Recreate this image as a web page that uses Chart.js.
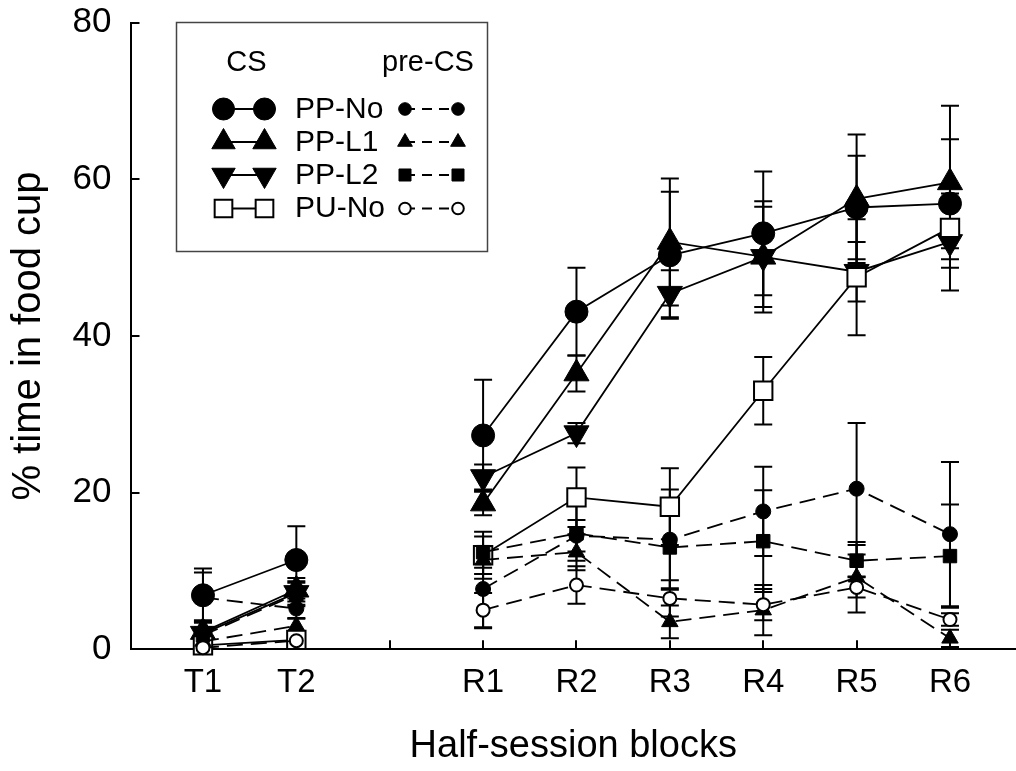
<!DOCTYPE html>
<html>
<head>
<meta charset="utf-8">
<script src="https://cdn.jsdelivr.net/npm/chart.js@4.4.1/dist/chart.umd.min.js"></script>
<style>
html,body{margin:0;padding:0;background:#fff;}
#wrap{width:1016px;height:771px;position:relative;}
</style>
</head>
<body>
<div id="wrap"><canvas id="c" width="1016" height="771"></canvas></div>
<script>
// ---------- data ----------
const categories = ['T1', 'T2', '', 'R1', 'R2', 'R3', 'R4', 'R5', 'R6'];
const yTicks = [0, 20, 40, 60, 80];
const seriesNames = ['PP-No', 'PP-L1', 'PP-L2', 'PU-No'];

// CS period (large markers, solid lines)
const ppNoCS   = [6.9, 11.4, null, 27.3, 43.1, 50.3, 53.1, 56.4, 56.9];
const ppL1CS   = [2.2,  7.6, null, 18.6, 35.2, 52.0, 50.1, 57.5, 59.6];
const ppL2CS   = [2.0,  7.2, null, 22.0, 27.6, 45.4, 50.1, 48.2, 52.0];
const puNoCS   = [0.5,  1.2, null, 12.0, 19.4, 18.2, 33.0, 47.5, 53.8];
const ppNoCSErr = [3.4, 4.3, null, 7.1, 5.6, 8.1, 7.9, 6.6, 8.2];
const ppL1CSErr = [1.5, 1.5, null, 1.5, 2.3, 8.1, 7.1, 8.2, 9.8];
const ppL2CSErr = [1.6, 1.5, null, 1.6, 1.3, 3.0, 6.4, 3.8, 6.2];
const puNoCSErr = [0.6, 0.8, null, 3.0, 3.8, 4.9, 4.3, 7.4, 2.6];

// pre-CS period (small markers, dashed lines)
const ppNoPre  = [6.6, 5.2, null,  7.7, 14.5, 14.0, 17.6, 20.5, 14.7];
const ppL1Pre  = [1.0, 3.0, null, 11.4, 12.4,  3.5,  5.0,  9.2,  1.4];
const ppL2Pre  = [1.8, 7.0, null, 12.4, 14.8, 13.0, 13.8, 11.3, 11.9];
const puNoPre  = [0.2, 1.1, null,  5.0,  8.2,  6.5,  5.7,  7.9,  3.8];
const ppNoPreErr = [3.2, 1.3, null, 5.0, 2.0, 6.4, 5.7, 8.4, 9.2];
const ppL1PreErr = [0.8, 1.0, null, 1.8, 2.3, 2.1, 3.2, 4.5, 1.1];
const ppL2PreErr = [1.0, 1.5, null, 2.0, 3.5, 5.2, 6.5, 2.0, 6.6];
const puNoPreErr = [0.3, 0.5, null, 2.2, 2.4, 2.3, 2.0, 1.3, 0.8];

// ---------- styles ----------
const FONT = '"Liberation Sans", Arial, Helvetica, sans-serif';
const csStyles = [
  {pointStyle:'circle',   radius:11.5, rotation:0,   fill:'#000', bw:1},
  {pointStyle:'triangle', radius:14.5, rotation:0,   fill:'#000', bw:1},
  {pointStyle:'triangle', radius:14.5, rotation:180, fill:'#000', bw:1},
  {pointStyle:'rect',     radius:13,   rotation:0,   fill:'#fff', bw:2}
];
const preStyles = [
  {pointStyle:'circle',   radius:7.5, rotation:0, fill:'#000', bw:1},
  {pointStyle:'triangle', radius:9.5, rotation:0, fill:'#000', bw:1},
  {pointStyle:'rect',     radius:9.5, rotation:0, fill:'#000', bw:1},
  {pointStyle:'circle',   radius:6.5, rotation:0, fill:'#fff', bw:2}
];

function toPts(arr){ return arr.map((v,i)=>({x:i, y:v})); }

function makeDs(label, values, errors, st, dashed, order){
  return {
    label, values, errors,
    data: toPts(values),
    borderColor:'#000',
    borderWidth:1.8,
    borderDash: dashed ? [16, 8] : [],
    pointStyle: st.pointStyle,
    pointRadius: st.radius,
    pointHoverRadius: st.radius,
    pointRotation: st.rotation,
    pointBackgroundColor: st.fill,
    pointBorderColor:'#000',
    pointBorderWidth: st.bw,
    pointHoverBorderWidth: st.bw,
    backgroundColor: st.fill,
    fill:false,
    tension:0,
    spanGaps:false,
    clip:false,
    order
  };
}

const datasets = [
  makeDs('PP-No CS', ppNoCS, ppNoCSErr, csStyles[0], false, 8),
  makeDs('PP-L1 CS', ppL1CS, ppL1CSErr, csStyles[1], false, 7),
  makeDs('PP-L2 CS', ppL2CS, ppL2CSErr, csStyles[2], false, 6),
  makeDs('PU-No CS', puNoCS, puNoCSErr, csStyles[3], false, 5),
  makeDs('PP-No pre-CS', ppNoPre, ppNoPreErr, preStyles[0], true, 4),
  makeDs('PP-L1 pre-CS', ppL1Pre, ppL1PreErr, preStyles[1], true, 3),
  makeDs('PP-L2 pre-CS', ppL2Pre, ppL2PreErr, preStyles[2], true, 2),
  makeDs('PU-No pre-CS', puNoPre, puNoPreErr, preStyles[3], true, 1)
];

// ---------- plugins ----------
const errorBars = {
  id:'errorBars',
  beforeDatasetsDraw(chart){
    const ctx = chart.ctx, xs = chart.scales.x, ys = chart.scales.y;
    ctx.save();
    ctx.strokeStyle = '#000';
    ctx.lineWidth = 2;
    ctx.setLineDash([]);
    chart.data.datasets.forEach(d=>{
      d.values.forEach((v,i)=>{
        const e = d.errors[i];
        if (v === null || e === null || e === undefined) return;
        const px = xs.getPixelForValue(i);
        const t = ys.getPixelForValue(v + e);
        const b = ys.getPixelForValue(Math.max(0, v - e));
        ctx.beginPath();
        ctx.moveTo(px, t); ctx.lineTo(px, b);
        ctx.moveTo(px - 9, t); ctx.lineTo(px + 9, t);
        if (v - e > 0) { ctx.moveTo(px - 9, b); ctx.lineTo(px + 9, b); }
        ctx.stroke();
      });
    });
    ctx.restore();
  }
};

const innerTicks = {
  id:'innerTicks',
  beforeDatasetsDraw(chart){
    const ctx = chart.ctx, xs = chart.scales.x, ys = chart.scales.y, a = chart.chartArea;
    ctx.save();
    ctx.strokeStyle = '#000';
    ctx.lineWidth = 2;
    ctx.beginPath();
    yTicks.forEach(v=>{
      const py = Math.round(ys.getPixelForValue(v));
      ctx.moveTo(a.left, py); ctx.lineTo(a.left + 9, py);
    });
    categories.forEach((c,i)=>{
      const px = Math.round(xs.getPixelForValue(i));
      ctx.moveTo(px, a.bottom); ctx.lineTo(px, a.bottom - 9);
    });
    ctx.stroke();
    ctx.restore();
  }
};

function marker(ctx, st, x, y, r){
  ctx.save();
  ctx.fillStyle = st.fill;
  ctx.strokeStyle = '#000';
  ctx.lineWidth = st.bw;
  ctx.setLineDash([]);
  ctx.beginPath();
  if (st.pointStyle === 'circle') {
    ctx.arc(x, y, r, 0, Math.PI*2);
  } else if (st.pointStyle === 'triangle') {
    let rad = st.rotation * Math.PI / 180;
    for (let k=0;k<3;k++){
      const px = x + Math.sin(rad)*r, py = y - Math.cos(rad)*r;
      if (k===0) ctx.moveTo(px,py); else ctx.lineTo(px,py);
      rad += 2*Math.PI/3;
    }
    ctx.closePath();
  } else {
    const s = Math.SQRT1_2 * r;
    ctx.rect(x - s, y - s, 2*s, 2*s);
  }
  ctx.fill();
  ctx.stroke();
  ctx.restore();
}

const legendBox = {
  id:'legendBox',
  afterDraw(chart){
    const ctx = chart.ctx;
    ctx.save();
    ctx.fillStyle = '#fff';
    ctx.fillRect(176.5, 22.5, 311, 229);
    ctx.strokeStyle = '#444';
    ctx.lineWidth = 1.5;
    ctx.strokeRect(176.5, 22.5, 311, 229);
    ctx.fillStyle = '#000';
    ctx.textBaseline = 'middle';
    ctx.textAlign = 'center';
    ctx.font = '29px ' + FONT;
    ctx.fillText('CS', 246.5, 63);
    ctx.fillText('pre-CS', 428, 63);
    const rows = [109, 142, 175, 208.5];
    seriesNames.forEach((name, k)=>{
      const y = rows[k];
      ctx.strokeStyle = '#000'; ctx.lineWidth = 1.8; ctx.setLineDash([]);
      ctx.beginPath(); ctx.moveTo(223.5, y); ctx.lineTo(264.5, y); ctx.stroke();
      const cs = csStyles[k];
      const rcs = cs.pointStyle === 'circle' ? 11 : cs.pointStyle === 'rect' ? 12.5 : 13.5;
      marker(ctx, cs, 223.5, y, rcs);
      marker(ctx, cs, 264.5, y, rcs);
      ctx.strokeStyle = '#000'; ctx.lineWidth = 1.8; ctx.setLineDash([10, 7]);
      ctx.beginPath(); ctx.moveTo(405, y); ctx.lineTo(458, y); ctx.stroke();
      ctx.setLineDash([]);
      const pr = preStyles[k];
      const rpr = pr.pointStyle === 'circle' ? (pr.fill === '#fff' ? 5.8 : 6.3) : 8.5;
      marker(ctx, pr, 405, y, rpr);
      marker(ctx, pr, 458, y, rpr);
      ctx.fillStyle = '#000';
      ctx.textAlign = 'left';
      ctx.font = '30px ' + FONT;
      ctx.fillText(name, 295, y + 0.5);
    });
    ctx.restore();
  }
};

// ---------- chart ----------
const X_LEFT = -0.776, X_RIGHT = 8.707;

new Chart(document.getElementById('c'), {
  type:'line',
  data:{ datasets },
  options:{
    responsive:false,
    devicePixelRatio:1,
    animation:false,
    events:[],
    layout:{ autoPadding:false, padding:{ top:22.6, left:0, right:0, bottom:0 } },
    plugins:{ legend:{display:false}, tooltip:{enabled:false}, title:{display:false} },
    scales:{
      x:{
        type:'linear',
        min:X_LEFT, max:X_RIGHT,
        afterBuildTicks(s){ s.ticks = categories.map((c,i)=>({value:i})); },
        afterFit(s){ s.height = 121.7; s.paddingLeft = 0; s.paddingRight = 0; },
        grid:{ display:false, drawTicks:false },
        border:{ display:true, color:'#000', width:2 },
        ticks:{
          autoSkip:false, maxRotation:0, minRotation:0, padding:14,
          color:'#000', font:{ family:FONT, size:33 },
          callback:(v)=> categories[v] !== undefined ? categories[v] : ''
        },
        title:{ display:true, text:'Half-session blocks', color:'#000',
          font:{ family:FONT, size:38 }, padding:{ top:0, bottom:1.5 } }
      },
      y:{
        type:'linear',
        min:0, max:80,
        afterBuildTicks(s){ s.ticks = yTicks.map(v=>({value:v})); },
        afterFit(s){ s.width = 130.5; s.paddingTop = 0; s.paddingBottom = 0; },
        grid:{ display:false, drawTicks:false },
        border:{ display:true, color:'#000', width:2 },
        ticks:{ padding:19, color:'#000', font:{ family:FONT, size:35 } },
        title:{ display:true, text:'% time in food cup', color:'#000',
          font:{ family:FONT, size:40 }, padding:{ top:5, bottom:0 } }
      }
    }
  },
  plugins:[errorBars, innerTicks, legendBox]
});
</script>
</body>
</html>
